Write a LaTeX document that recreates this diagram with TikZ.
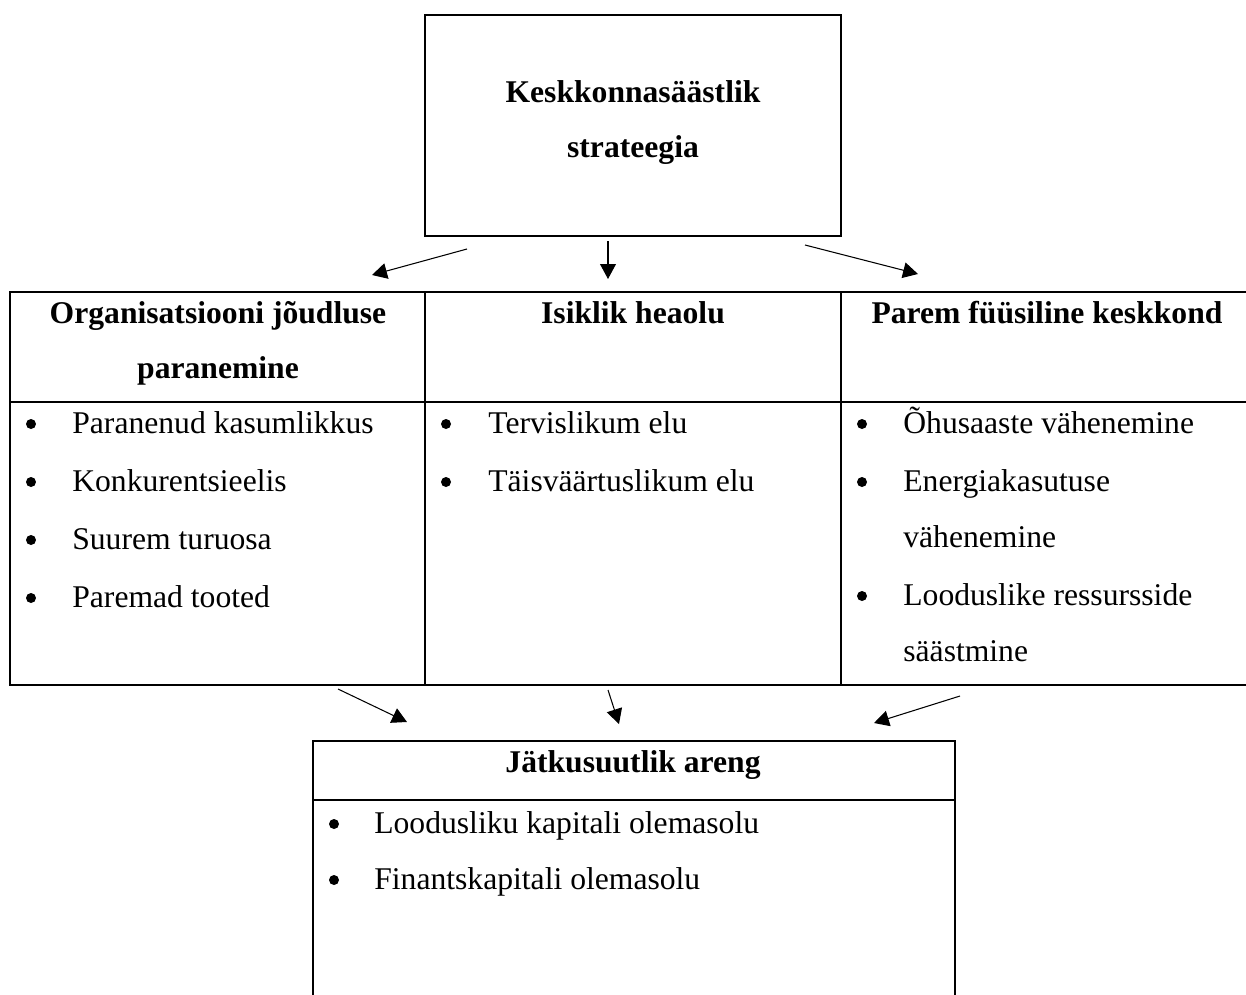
\documentclass[tikz,border=0pt]{standalone}
\usepackage{fontspec}
\setmainfont{Liberation Serif}
\usetikzlibrary{arrows.meta,positioning}
\tikzset{cell/.style={draw,rectangle,line width=1.1pt,inner sep=0pt,outer sep=0pt,anchor=north west}}
\tikzset{head/.style={font=\bfseries\fontsize{18}{33}\selectfont,anchor=base,inner sep=0pt}}
\tikzset{item/.style={font=\fontsize{18}{33}\selectfont,anchor=base west,inner sep=0pt}}
\tikzset{dot/.style={circle,fill,inner sep=0pt,minimum size=0.2cm}}
\tikzset{pil/.style={-{Triangle[length=8.5pt,width=9pt]},line width=0.6pt}}

\begin{document}
\begin{tikzpicture}[x=0.02cm,y=-0.02cm]
		\useasboundingbox (0,0) rectangle (1246,994);
		
		% strategy box
		\node[cell,line width=1.5pt,minimum width=8.32cm,minimum height=4.42cm] (strat) at (425,15) {};
		\node[head] (strat1) at (633,102) {Keskkonnasäästlik};
		\node[head] (strat2) at (633,157) {strateegia};
		
		% table, header row and body row
		\node[cell,minimum width=8.3cm,minimum height=2.2cm] (org) at (10,292) {};
		\node[cell,minimum width=8.32cm,minimum height=2.2cm] (isik) at (425,292) {};
		\node[cell,minimum width=8.12cm,minimum height=2.2cm] (keskk) at (841,292) {};
		\node[cell,minimum width=8.3cm,minimum height=5.66cm] (orgb) at (10,402) {};
		\node[cell,minimum width=8.32cm,minimum height=5.66cm] (isikb) at (425,402) {};
		\node[cell,minimum width=8.12cm,minimum height=5.66cm] (keskkb) at (841,402) {};
		
		\node[head] (org1) at (218,323) {Organisatsiooni jõudluse};
		\node[head] (org2) at (218,378) {paranemine};
		\node[head] (isik1) at (633,323) {Isiklik heaolu};
		\node[head] (keskk1) at (1047,323) {Parem füüsiline keskkond};
		
		\foreach \t [count=\i from 0] in {Paranenud kasumlikkus,Konkurentsieelis,Suurem turuosa,Paremad tooted}{
			\node[dot] (ob\i) at (31,424+58*\i) {};
			\node[item] (o\i) at (72,433+58*\i) {\t};
		}
		\foreach \t [count=\i from 0] in {Tervislikum elu,Täisväärtuslikum elu}{
			\node[dot] (ib\i) at (446,424+58*\i) {};
			\node[item] (i\i) at (488,433+58*\i) {\t};
		}
		\node[dot] (kb0) at (862,424) {};
		\node[item] (k0) at (903,433) {Õhusaaste vähenemine};
		\node[dot] (kb1) at (862,482) {};
		\node[item] (k1) at (903,491) {Energiakasutuse};
		\node[item] (k1b) at (903,547) {vähenemine};
		\node[dot] (kb2) at (862,596) {};
		\node[item] (k2) at (903,605) {Looduslike ressursside};
		\node[item] (k2b) at (903,661) {säästmine};
		
		% sustainable development box
		\node[cell,minimum width=12.84cm,minimum height=1.18cm] (areng) at (313,741) {};
		\node[cell,minimum width=12.84cm,minimum height=4.2cm] (arengb) at (313,800) {};
		\node[head] (areng1) at (633,772) {Jätkusuutlik areng};
		\foreach \t [count=\i from 0] in {Loodusliku kapitali olemasolu,Finantskapitali olemasolu}{
			\node[dot] (ab\i) at (334,824+56*\i) {};
			\node[item] (a\i) at (374,833+56*\i) {\t};
		}
		
		% arrows
		\coordinate (s1) at (467,249); \coordinate (e1) at (372,275);
		\coordinate (s2) at (608,241); \coordinate (e2) at (608,279);
		\coordinate (s3) at (805,245); \coordinate (e3) at (918,274);
		\coordinate (s4) at (338,689); \coordinate (e4) at (407,722);
		\coordinate (s5) at (608,690); \coordinate (e5) at (619,724);
		\coordinate (s6) at (960,696); \coordinate (e6) at (874,723);
		\foreach \i in {1,...,6}
			\draw[pil] (s\i) -- (e\i);
		
\end{tikzpicture}
\end{document}
